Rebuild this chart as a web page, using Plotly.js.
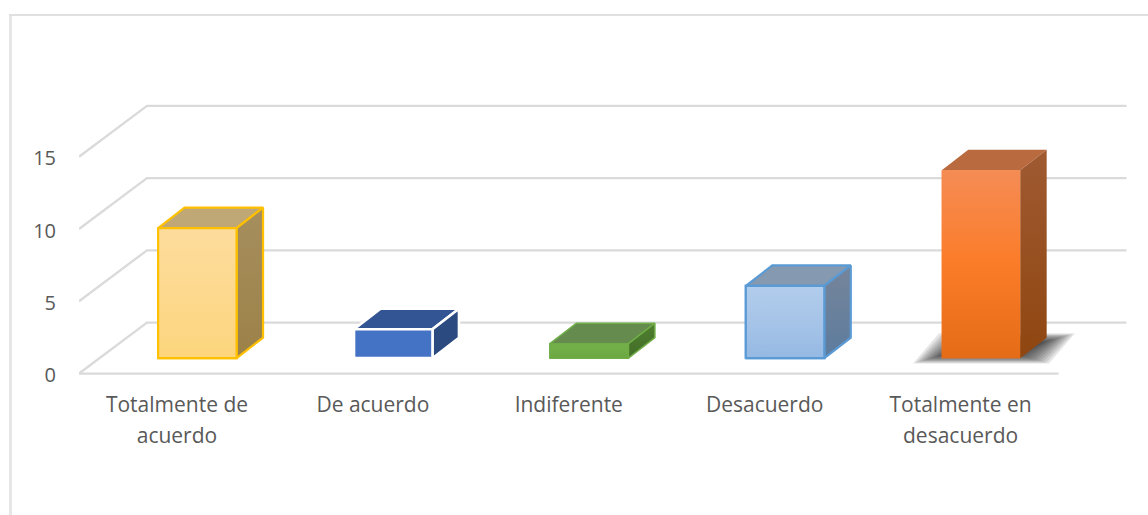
<!DOCTYPE html>
<html>
<head>
<meta charset="utf-8">
<script src="https://cdn.plot.ly/plotly-3.0.1.min.js"></script>
<style>
html,body{margin:0;padding:0;background:#fff;overflow:hidden}
#frameL{position:absolute;left:9px;top:14px;width:3px;height:501px;background:#e6e6e6}
#frameT{position:absolute;left:9px;top:14px;right:0;height:2px;background:#e0e0e0}
#chart{position:absolute;left:0;top:0;width:1148px;height:515px}
</style>
</head>
<body>
<div id="frameL"></div><div id="frameT"></div>
<div id="chart"></div>
<script>
// ---- data ----
var categories = ["Totalmente de acuerdo","De acuerdo","Indiferente","Desacuerdo","Totalmente en desacuerdo"];
var labelLine1 = ["Totalmente de","De acuerdo","Indiferente","Desacuerdo","Totalmente en"];
var labelLine2 = ["acuerdo","","","","desacuerdo"];
var values = [9,2,1,5,13];
var yTicks = [0,5,10,15];

// ---- styles ----
var frontTop = ["#FDDC9C","#4472C4","#74B04C","#B2CDEC","#F58C55"];
var frontMid = ["#FDD98F","#4472C4","#70AD47","#A6C4E8","#FB7C28"];
var frontBot = ["#FCD57C","#4472C4","#6BA741","#95B9E3","#E56C17"];
var topCols  = ["#BFA776","#335593","#658B4E","#8599B0","#B96A3F"];
var sideTop  = ["#A68E5E","#2A4A80","#4F7F30","#76859A","#A05A32"];
var sideBot  = ["#9C8248","#2A4A80","#426D27","#5D7C9E","#8F4610"];
var edgeCols = ["#FFC000","#FFFFFF","#70AD47","#5B9BD5",""];
var edgeW    = [2.2,2.6,1.5,2.2,0];

// ---- geometry of the oblique projection (pixels per axis unit) ----
var PX = 196, PY = 14.46;
var L = 78.5, T = 100, R = 1130, B = 373.7;
var xMax = (R-L)/PX, yMax = (B-T)/PY, yMin = -1;
var wallDX = 68/PX, wallDY = 51/PY;          // floor depth
var barOffX = 20.4/PX, barOffY = 15.4/PY;    // bar front sits this far into the floor
var barDX = 26.5/PX, barDY = 20.5/PY;        // bar depth
var barW = 78.5/PX;

var traces = [];
var grey = "#DADADA";
function line(xs,ys){
  return {type:"scatter",mode:"lines",x:xs,y:ys,line:{color:grey,width:2.3},hoverinfo:"skip",xaxis:"x",yaxis:"y"};
}
// gridlines: front edge, up the side wall, along the back wall
yTicks.forEach(function(v){
  traces.push(line([0,wallDX,categories.length+wallDX],[v,v+wallDY,v+wallDY]));
});
traces.push(line([0,categories.length],[0,0]));

// soft shadow below the last bar
(function(){
  var i = values.length-1;
  var cx = i+0.5+barOffX;
  var l = cx-barW/2, r = cx+barW/2;
  var y0 = barOffY;
  [12,10,8,6,4,2,0,-2,-4,-6,-8,-10].forEach(function(e){
    var ex=1.4*e/PX, ey=0.4*e/PY;
    var bl=l-12/PX-ex, br=r+12/PX+ex, by=y0-0.5/PY-ey, ty=y0+20/PY+ey;
    var s=26/PX;
    traces.push({type:"scatter",mode:"lines",x:[bl,br,br+s,bl+s,bl],y:[by,by,ty,ty,by],
      fill:"toself",fillcolor:"rgba(30,30,30,0.11)",line:{width:0},hoverinfo:"skip",xaxis:"x",yaxis:"y"});
  });
})();

// bars (front faces) through the library's bar scale
traces.push({type:"bar",
  x:values.map(function(v,i){return i+0.5+barOffX;}),
  y:values,
  base:values.map(function(){return barOffY;}),
  width:barW,
  text:categories,textposition:"none",
  marker:{color:frontMid,line:{color:edgeCols.map(function(c,i){return c||frontMid[i];}),width:edgeW}},
  hoverinfo:"skip",xaxis:"x2",yaxis:"y2"});

// extruded faces and shaded front derived from the values
function poly(xs,ys,fillSpec,edge,w){
  var t={type:"scatter",mode:"lines",x:xs,y:ys,fill:"toself",hoverinfo:"skip",xaxis:"x2",yaxis:"y2",
    line:w>0?{color:edge,width:w,shape:"linear"}:{width:0}};
  if(typeof fillSpec==="string"){t.fillcolor=fillSpec;}
  else{t.fillgradient=fillSpec;}
  return t;
}
function grad(stops){
  return {type:"vertical",colorscale:stops};
}
values.forEach(function(v,i){
  var cx=i+0.5+barOffX, l=cx-barW/2, r=cx+barW/2, b=barOffY, t=barOffY+v;
  var e=edgeCols[i], w=edgeW[i];
  traces.push(poly([l,l+barDX,r+barDX,r,l],[t,t+barDY,t+barDY,t,t],topCols[i],e,w));
  traces.push(poly([r,r+barDX,r+barDX,r,r],[b,b+barDY,t+barDY,t,b],
    grad([[0,sideBot[i]],[1,sideTop[i]]]),e,w));
  traces.push(poly([l,r,r,l,l],[b,b,t,t,b],
    grad([[0,frontBot[i]],[0.5,frontMid[i]],[1,frontTop[i]]]),e,w));
});

var fontX = {family:"'Open Sans', sans-serif",size:21,color:"#595959"};
var fontY = {family:"'Open Sans', sans-serif",size:20,color:"#595959"};
var tickVals = categories.map(function(c,i){return i+0.5;});
var labelNudge = 1.5/PY;   // labels sit a little below their gridline
var layout = {
  width:1148,height:515,
  margin:{l:L,r:1148-R,t:T,b:515-B-PY*(-yMin),pad:0},
  paper_bgcolor:"rgba(0,0,0,0)",plot_bgcolor:"rgba(0,0,0,0)",
  showlegend:false,hovermode:false,barmode:"overlay",
  xaxis:{range:[0,xMax],tickmode:"array",tickvals:tickVals,ticktext:labelLine1,tickangle:0,
    showgrid:false,zeroline:false,showline:false,ticks:"",tickfont:fontX,ticklabelstandoff:2,fixedrange:true},
  yaxis:{range:[yMin,yMax],tickmode:"array",tickvals:yTicks.map(function(v){return v-labelNudge;}),ticktext:yTicks.map(String),
    showgrid:false,zeroline:false,showline:false,ticks:"",tickfont:fontY,ticklabelstandoff:22,fixedrange:true},
  xaxis2:{range:[0,xMax],overlaying:"x",anchor:"y2",side:"bottom",tickmode:"array",tickvals:tickVals,ticktext:labelLine2,tickangle:0,
    showgrid:false,zeroline:false,showline:false,ticks:"",tickfont:fontX,ticklabelstandoff:33,fixedrange:true},
  yaxis2:{range:[yMin,yMax],overlaying:"y",anchor:"x2",showticklabels:false,
    showgrid:false,zeroline:false,showline:false,ticks:"",fixedrange:true}
};
Plotly.newPlot("chart",traces,layout,{displayModeBar:false,staticPlot:true});
</script>
</body>
</html>
